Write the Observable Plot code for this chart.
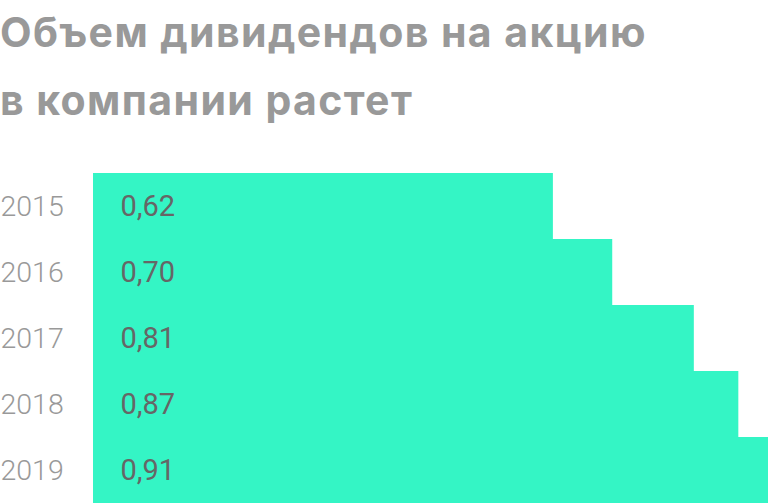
<!DOCTYPE html>
<html><head><meta charset="utf-8">
<script src="https://cdn.jsdelivr.net/npm/d3@7"></script>
<script src="https://cdn.jsdelivr.net/npm/@observablehq/plot@0.6"></script>
<style>
body{margin:0;background:#fff;font-family:Roboto,sans-serif;}
#title{font-family:Inter,Roboto,sans-serif;font-weight:700;font-size:41px;line-height:68px;letter-spacing:1.4px;color:#999;margin:-2px 0 0 0;height:174px;white-space:nowrap;}
svg{display:block;}
</style></head>
<body>
<div id="title">Объем дивидендов на акцию<br>в компании растет</div>
<div id="chart"></div>
<script>
const years = ["2015","2016","2017","2018","2019"];
const values = [0.62,0.70,0.81,0.87,0.91];
const data = years.map((y,i)=>({year:y,value:values[i],label:values[i].toFixed(2).replace(".",",")}));
const chart = Plot.plot({
  width:768,height:331,
  marginLeft:93,marginRight:0,marginTop:0,marginBottom:0,
  style:{fontFamily:"Roboto, sans-serif",background:"#fff"},
  x:{domain:[0,0.91],axis:null},
  y:{domain:years,padding:0,label:null},
  marks:[
    Plot.barX(data,{y:"year",x:"value",fill:"#34f5c5"}),
    Plot.axisY({tickSize:0,tickPadding:93,textAnchor:"start",fontSize:28.5,fill:"#999",fontWeight:300}),
    Plot.text(data,{y:"year",text:"label",frameAnchor:"left",dx:27,textAnchor:"start",fontSize:29,fill:"#666",fontWeight:400})
  ]
});
document.getElementById("chart").appendChild(chart);
</script>
</body></html>
